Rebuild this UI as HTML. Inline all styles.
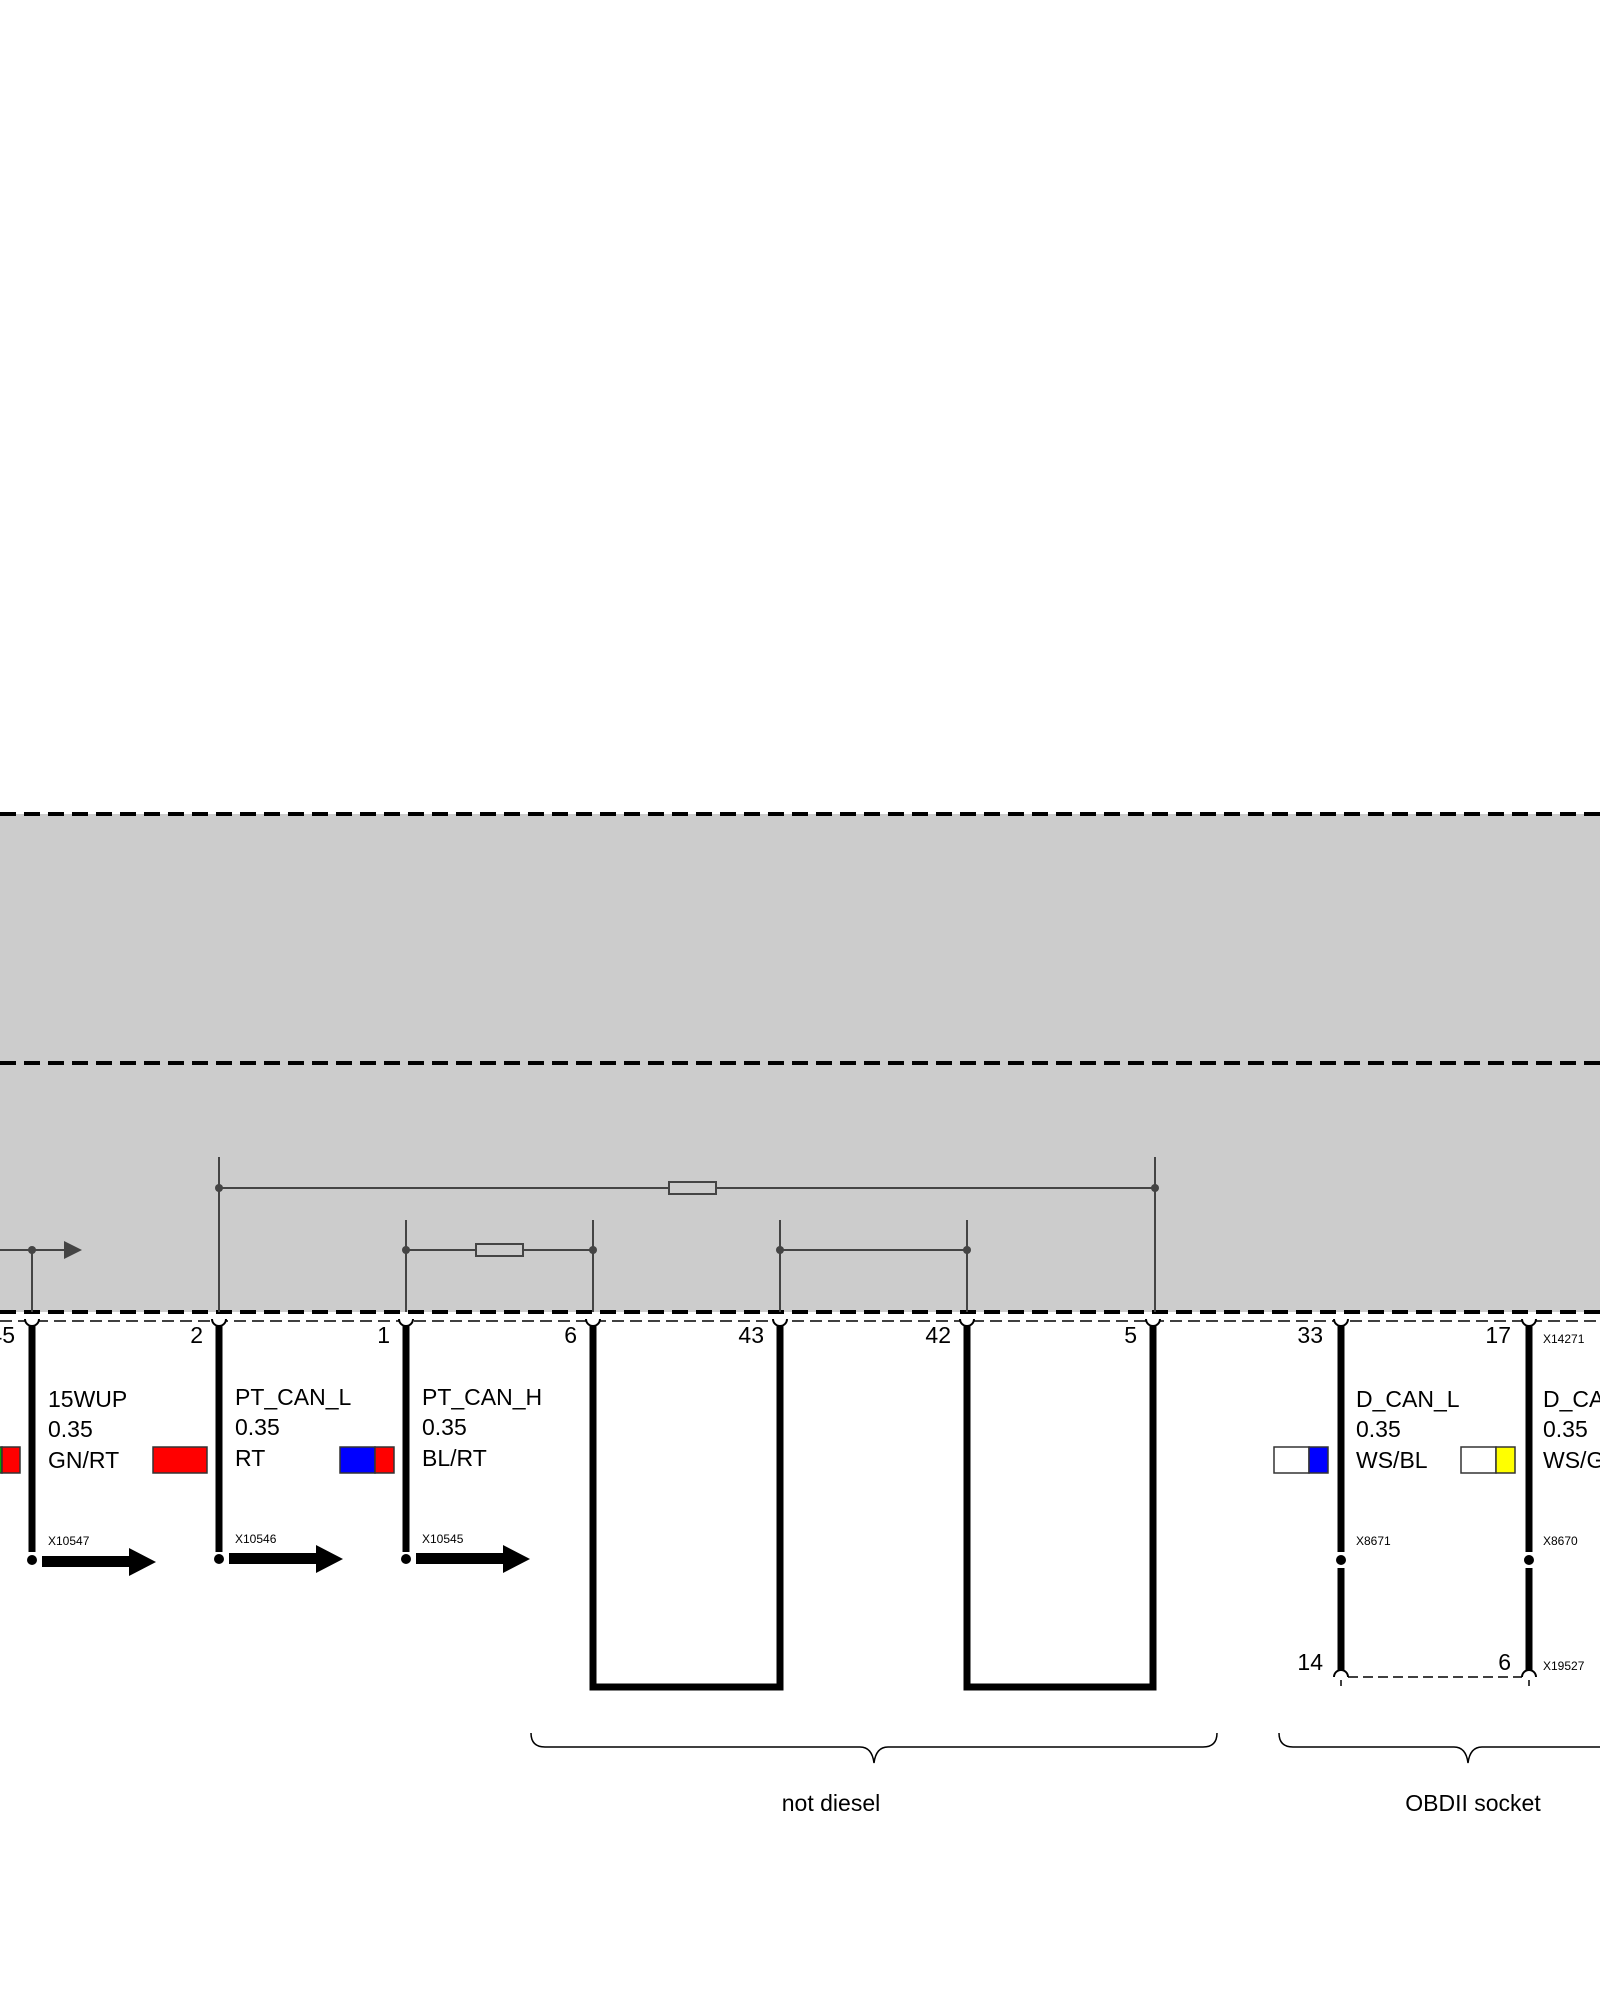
<!DOCTYPE html>
<html><head><meta charset="utf-8"><style>
html,body{margin:0;padding:0;background:#fff}
svg{display:block}
text{font-family:"Liberation Sans",Arial,sans-serif;fill:#000}
</style></head><body>
<svg width="1600" height="2000" viewBox="0 0 1600 2000" xmlns="http://www.w3.org/2000/svg">
<rect x="0" y="814" width="1600" height="498" fill="#cccccc"/>
<g stroke="#000" stroke-width="4" stroke-dasharray="16,8" fill="none">
<line x1="0" y1="814" x2="1600" y2="814"/>
<line x1="0" y1="1063" x2="1600" y2="1063"/>
<line x1="0" y1="1312" x2="1600" y2="1312"/>
</g>
<line x1="0" y1="1321" x2="1600" y2="1321" stroke="#000" stroke-width="1.5" stroke-dasharray="12,6"/>
<!-- internal thin lines -->
<g stroke="#444" stroke-width="2" fill="none">
<line x1="0" y1="1250" x2="66" y2="1250"/>
<line x1="32" y1="1250" x2="32" y2="1312"/>
<line x1="219" y1="1157" x2="219" y2="1312"/>
<line x1="1155" y1="1157" x2="1155" y2="1312"/>
<line x1="219" y1="1188" x2="669" y2="1188"/>
<line x1="716" y1="1188" x2="1155" y2="1188"/>
<rect x="669" y="1182" width="47" height="12" fill="#ccc"/>
<line x1="406" y1="1220" x2="406" y2="1312"/>
<line x1="593" y1="1220" x2="593" y2="1312"/>
<line x1="780" y1="1220" x2="780" y2="1312"/>
<line x1="967" y1="1220" x2="967" y2="1312"/>
<line x1="406" y1="1250" x2="476" y2="1250"/>
<line x1="523" y1="1250" x2="593" y2="1250"/>
<rect x="476" y="1244" width="47" height="12" fill="#ccc"/>
<line x1="780" y1="1250" x2="967" y2="1250"/>
</g>
<polygon points="64,1241 82,1250 64,1259" fill="#444"/>
<g fill="#444">
<circle cx="32" cy="1250" r="4"/><circle cx="219" cy="1188" r="4"/><circle cx="1155" cy="1188" r="4"/>
<circle cx="406" cy="1250" r="4"/><circle cx="593" cy="1250" r="4"/><circle cx="780" cy="1250" r="4"/><circle cx="967" cy="1250" r="4"/>
</g>
<!-- thick wires -->
<g stroke="#000" stroke-width="7" fill="none">
<line x1="32" y1="1326" x2="32" y2="1552"/>
<line x1="219" y1="1326" x2="219" y2="1552"/>
<line x1="406" y1="1326" x2="406" y2="1552"/>
<polyline points="593,1326 593,1687 780,1687 780,1326"/>
<polyline points="967,1326 967,1687 1153,1687 1153,1326"/>
<line x1="1341" y1="1326" x2="1341" y2="1552"/>
<line x1="1341" y1="1568" x2="1341" y2="1670"/>
<line x1="1529" y1="1326" x2="1529" y2="1552"/>
<line x1="1529" y1="1568" x2="1529" y2="1670"/>
</g>
<!-- pin cups -->
<g stroke="#000" stroke-width="2" fill="#fff">
<path d="M25,1319 a7,7 0 0 0 14,0"/>
<path d="M212,1319 a7,7 0 0 0 14,0"/>
<path d="M399,1319 a7,7 0 0 0 14,0"/>
<path d="M586,1319 a7,7 0 0 0 14,0"/>
<path d="M773,1319 a7,7 0 0 0 14,0"/>
<path d="M960,1319 a7,7 0 0 0 14,0"/>
<path d="M1146,1319 a7,7 0 0 0 14,0"/>
<path d="M1334,1319 a7,7 0 0 0 14,0"/>
<path d="M1522,1319 a7,7 0 0 0 14,0"/>
<path d="M1334,1677 a7,7 0 0 1 14,0" fill="none"/>
<path d="M1522,1677 a7,7 0 0 1 14,0" fill="none"/>
</g>
<line x1="1348" y1="1677" x2="1522" y2="1677" stroke="#000" stroke-width="1.5" stroke-dasharray="10,5"/>
<line x1="1341" y1="1680" x2="1341" y2="1686" stroke="#000" stroke-width="1.5"/>
<line x1="1529" y1="1680" x2="1529" y2="1686" stroke="#000" stroke-width="1.5"/>
<!-- dots and arrows -->
<g fill="#000">
<circle cx="32" cy="1560" r="5"/><circle cx="219" cy="1559" r="5"/><circle cx="406" cy="1559" r="5"/>
<circle cx="1341" cy="1560" r="5"/><circle cx="1529" cy="1560" r="5"/>
<polygon points="42,1556 129,1556 129,1548 156,1562 129,1576 129,1567 42,1567"/>
<polygon points="229,1553 316,1553 316,1545 343,1559 316,1573 316,1564 229,1564"/>
<polygon points="416,1553 503,1553 503,1545 530,1559 503,1573 503,1564 416,1564"/>
</g>
<!-- pin numbers -->
<g font-size="23">
<text x="15" y="1343" text-anchor="end">45</text>
<text x="203" y="1343" text-anchor="end">2</text>
<text x="390" y="1343" text-anchor="end">1</text>
<text x="577" y="1343" text-anchor="end">6</text>
<text x="764" y="1343" text-anchor="end">43</text>
<text x="951" y="1343" text-anchor="end">42</text>
<text x="1137" y="1343" text-anchor="end">5</text>
<text x="1323" y="1343" text-anchor="end">33</text>
<text x="1511" y="1343" text-anchor="end">17</text>
<text x="1323" y="1670" text-anchor="end">14</text>
<text x="1511" y="1670" text-anchor="end">6</text>
</g>
<g font-size="23">
<text x="48" y="1407">15WUP</text><text x="48" y="1437">0.35</text><text x="48" y="1468">GN/RT</text>
<text x="235" y="1405">PT_CAN_L</text><text x="235" y="1435">0.35</text><text x="235" y="1466">RT</text>
<text x="422" y="1405">PT_CAN_H</text><text x="422" y="1435">0.35</text><text x="422" y="1466">BL/RT</text>
<text x="1356" y="1407">D_CAN_L</text><text x="1356" y="1437">0.35</text><text x="1356" y="1468">WS/BL</text>
<text x="1543" y="1407">D_CAN_H</text><text x="1543" y="1437">0.35</text><text x="1543" y="1468">WS/GN</text>
</g>
<g font-size="12">
<text x="48" y="1545">X10547</text>
<text x="235" y="1543">X10546</text>
<text x="422" y="1543">X10545</text>
<text x="1356" y="1545">X8671</text>
<text x="1543" y="1545">X8670</text>
<text x="1543" y="1343">X14271</text>
<text x="1543" y="1670">X19527</text>
</g>
<!-- color boxes -->
<g stroke="#333" stroke-width="1.5">
<rect x="-2" y="1447" width="4" height="26" fill="#0a0"/>
<rect x="2" y="1447" width="18" height="26" fill="#f00"/>
<rect x="153" y="1447" width="54" height="26" fill="#f00"/>
<rect x="340" y="1447" width="35" height="26" fill="#00f"/>
<rect x="375" y="1447" width="19" height="26" fill="#f00"/>
<rect x="1274" y="1447" width="35" height="26" fill="#fff"/>
<rect x="1309" y="1447" width="19" height="26" fill="#00f"/>
<rect x="1461" y="1447" width="35" height="26" fill="#fff"/>
<rect x="1496" y="1447" width="19" height="26" fill="#ff0"/>
</g>
<!-- braces -->
<g stroke="#000" stroke-width="1.5" fill="none">
<path d="M531,1733 q0,14 14,14 L860,1747 q12,0 14,16 q2,-16 14,-16 L1203,1747 q14,0 14,-14"/>
<path d="M1279,1733 q0,14 14,14 L1454,1747 q12,0 14,16 q2,-16 14,-16 L1610,1747"/>
</g>
<g font-size="23">
<text x="831" y="1811" text-anchor="middle">not diesel</text>
<text x="1473" y="1811" text-anchor="middle">OBDII socket</text>
</g>
</svg>
</body></html>
